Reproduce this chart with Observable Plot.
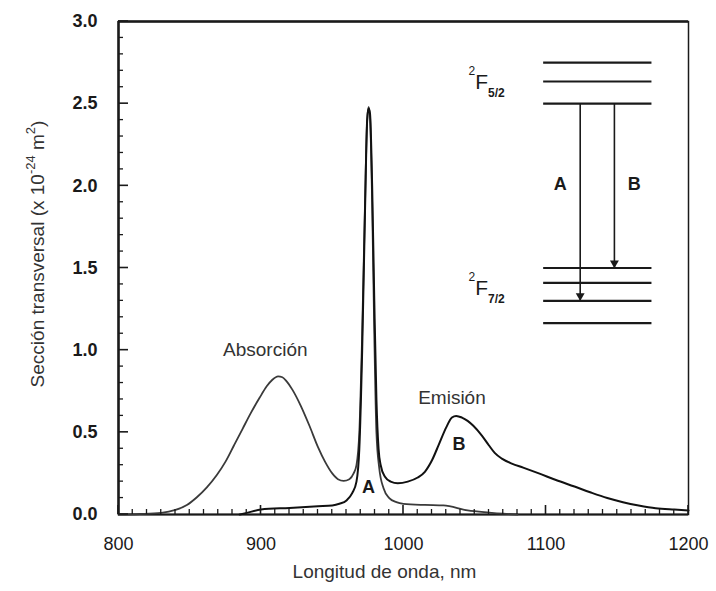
<!DOCTYPE html>
<html><head><meta charset="utf-8">
<script src="https://cdn.jsdelivr.net/npm/d3@7"></script>
<script src="https://cdn.jsdelivr.net/npm/@observablehq/plot@0.6"></script>
<style>
body{margin:0;background:#fff;}
#chart svg{font-family:"Liberation Sans",Arial,Helvetica,sans-serif;background:#fff;}
</style></head><body><div id="chart"></div>
<script>
// Absorption cross-section (x 10^-24 m^2) vs wavelength (nm)
const absWavelength = [800, 815, 830, 840, 848, 855, 862, 869, 875, 881, 887, 893, 899, 904, 908, 912, 915, 918, 922, 928, 934, 940, 945, 950, 954, 958, 962, 965, 967, 969, 971, 973, 974.5, 975.5, 976.5, 978, 979.5, 981, 983, 986, 990, 995, 1000, 1015, 1028, 1045, 1060, 1070, 1080];
const absCross = [0, 0.003, 0.01, 0.028, 0.058, 0.105, 0.165, 0.24, 0.32, 0.42, 0.52, 0.62, 0.71, 0.78, 0.82, 0.84, 0.835, 0.81, 0.76, 0.66, 0.54, 0.41, 0.32, 0.25, 0.215, 0.205, 0.215, 0.25, 0.3, 0.5, 1.1, 1.9, 2.4, 2.48, 2.42, 1.9, 1.1, 0.5, 0.28, 0.16, 0.1, 0.075, 0.065, 0.058, 0.055, 0.025, 0.012, 0.005, 0];

// Emission cross-section
const emiWavelength = [885, 890, 900, 920, 940, 950, 955, 960, 964, 967, 969, 971, 973, 974.5, 975.5, 976.5, 978, 979.5, 981, 982.5, 984, 987, 991, 996, 1003, 1010, 1015, 1020, 1025, 1030, 1034, 1037, 1041, 1045, 1049, 1055, 1060, 1064, 1069, 1076, 1084, 1095, 1107, 1120, 1131, 1143, 1154, 1165, 1177, 1190, 1200];
const emiCross = [0, 0.01, 0.03, 0.04, 0.05, 0.055, 0.065, 0.085, 0.13, 0.2, 0.4, 1.0, 1.85, 2.4, 2.47, 2.44, 2.0, 1.3, 0.7, 0.4, 0.3, 0.23, 0.2, 0.19, 0.2, 0.225, 0.26, 0.33, 0.43, 0.53, 0.59, 0.6, 0.59, 0.57, 0.54, 0.48, 0.42, 0.375, 0.34, 0.31, 0.285, 0.25, 0.21, 0.17, 0.135, 0.1, 0.075, 0.055, 0.038, 0.03, 0.025];

// Axis ticks
const xTicks = [800, 900, 1000, 1100, 1200];
const yTicks = [0, 0.5, 1.0, 1.5, 2.0, 2.5, 3.0];

// Energy-level inset (drawn in chart units)
const upperLevels = [2.75, 2.635, 2.50];   // 2F5/2 manifold
const lowerLevels = [1.50, 1.41, 1.30, 1.165]; // 2F7/2 manifold
const levelSpan = [1098, 1174];
const transitions = [
  {name: "A", x: 1124, from: 2.50, to: 1.30, labelX: 1110},
  {name: "B", x: 1148, from: 2.50, to: 1.50, labelX: 1162}
];

const absData = absWavelength.map((w, i) => ({w, v: absCross[i]}));
const emiData = emiWavelength.map((w, i) => ({w, v: emiCross[i]}));
const yMinor = d3.range(0, 31).map(i => ({v: i / 10, major: i % 5 === 0}));
const xMinor = d3.range(0, 41).map(i => ({v: 800 + i * 10, major: i % 10 === 0}));
const levels = [...upperLevels, ...lowerLevels].map(v => ({v}));

const ink = "#1a1a1a";
const plot = Plot.plot({
  width: 716, height: 591,
  marginLeft: 118, marginRight: 28, marginTop: 21, marginBottom: 77,
  style: {fontFamily: '"Liberation Sans", Arial, sans-serif', fontSize: "18px", color: ink, background: "#fff"},
  x: {domain: [800, 1200]},
  y: {domain: [0, 3]},
  marks: [
    Plot.axisX({ticks: xTicks, tickSize: 0, tickPadding: 23, fontSize: 18, label: null, tickFormat: d => String(d)}),
    Plot.axisY({ticks: yTicks, tickSize: 0, tickPadding: 21, fontSize: 18, fontWeight: "bold", label: null, tickFormat: d3.format(".1f")}),
    // frame
    Plot.frame({stroke: ink, strokeWidth: 1.5, fill: "none"}),
    Plot.ruleX([800], {stroke: ink, strokeWidth: 2.5}),
    Plot.ruleY([3], {stroke: ink, strokeWidth: 2.5}),
    Plot.ruleY([0], {stroke: ink, strokeWidth: 2.2}),
    // curves
    Plot.line(absData, {x: "w", y: "v", stroke: "#3a3a3a", strokeWidth: 1.8, curve: "monotone-x"}),
    Plot.line(emiData, {x: "w", y: "v", stroke: "#111", strokeWidth: 2, curve: "monotone-x"}),
    // energy levels
    Plot.link(levels, {x1: () => levelSpan[0], x2: () => levelSpan[1], y1: "v", y2: "v", stroke: ink, strokeWidth: 2.2}),
    Plot.link(transitions, {x1: "x", x2: "x", y1: "from", y2: "to", stroke: ink, strokeWidth: 1.6}),
    Plot.dot(transitions, {x: "x", y: "to", symbol: "triangle", rotate: 180, r: 3.3, dy: -5, fill: ink, stroke: "none"}),
    Plot.text(transitions, {x: "labelX", y: 2.01, text: "name", fontSize: 18, fontWeight: "bold", fill: ink}),
    // annotations
    Plot.text(["Absorción"], {x: 903, y: 1.0, fontSize: 19, fill: "#333"}),
    Plot.text(["Emisión"], {x: 1034, y: 0.71, fontSize: 19, fill: "#333"}),
    Plot.text(["A"], {x: 975.5, y: 0.165, fontSize: 18, fontWeight: "bold", fill: ink}),
    Plot.text(["B"], {x: 1039, y: 0.43, fontSize: 18, fontWeight: "bold", fill: ink}),
    Plot.text(["Longitud de onda, nm"], {frameAnchor: "bottom", dy: 63, dx: -19, fontSize: 19, fill: "#333"})
  ]
});
document.getElementById("chart").append(plot);

const svg = d3.select(plot);
const sx = plot.scale("x"), sy = plot.scale("y");

// inward ticks placed through the plot's scales
const tg = svg.append("g").attr("stroke", ink).attr("class", "inner-ticks");
const x0 = sx.apply(800), yBase = sy.apply(0);
tg.selectAll(".yt").data(yMinor).join("line")
  .attr("x1", x0).attr("x2", d => x0 + (d.major ? 10 : 5))
  .attr("y1", d => sy.apply(d.v)).attr("y2", d => sy.apply(d.v))
  .attr("stroke-width", d => d.major ? 1.6 : 1.3);
tg.selectAll(".xt").data(xMinor).join("line")
  .attr("x1", d => sx.apply(d.v)).attr("x2", d => sx.apply(d.v))
  .attr("y1", yBase).attr("y2", d => yBase - (d.major ? 9 : 5))
  .attr("stroke-width", d => d.major ? 1.6 : 1.3);

// rich-text labels (superscripts / subscripts)
const yl = svg.append("text")
  .attr("transform", "translate(44,254) rotate(-90)")
  .attr("text-anchor", "middle")
  .attr("fill", "#333").attr("font-size", 19);
yl.append("tspan").text("Sección transversal (x 10");
yl.append("tspan").attr("font-size", 13).attr("dy", -9).text("-24");
yl.append("tspan").attr("dy", 9).text(" m");
yl.append("tspan").attr("font-size", 13).attr("dy", -9).text("2");
yl.append("tspan").attr("dy", 9).text(")");

function term(xv, yv, sub) {
  const t = svg.append("text")
    .attr("x", sx.apply(xv)).attr("y", sy.apply(yv))
    .attr("text-anchor", "start")
    .attr("fill", ink).attr("font-size", 21);
  t.append("tspan").attr("font-size", 12).attr("dy", -14).text("2");
  t.append("tspan").attr("dy", 14).text("F");
  t.append("tspan").attr("font-size", 12).attr("font-weight", "bold").attr("dy", 8).text(sub);
}
term(1046, 2.585, "5/2");
term(1046, 1.335, "7/2");
</script></body></html>
